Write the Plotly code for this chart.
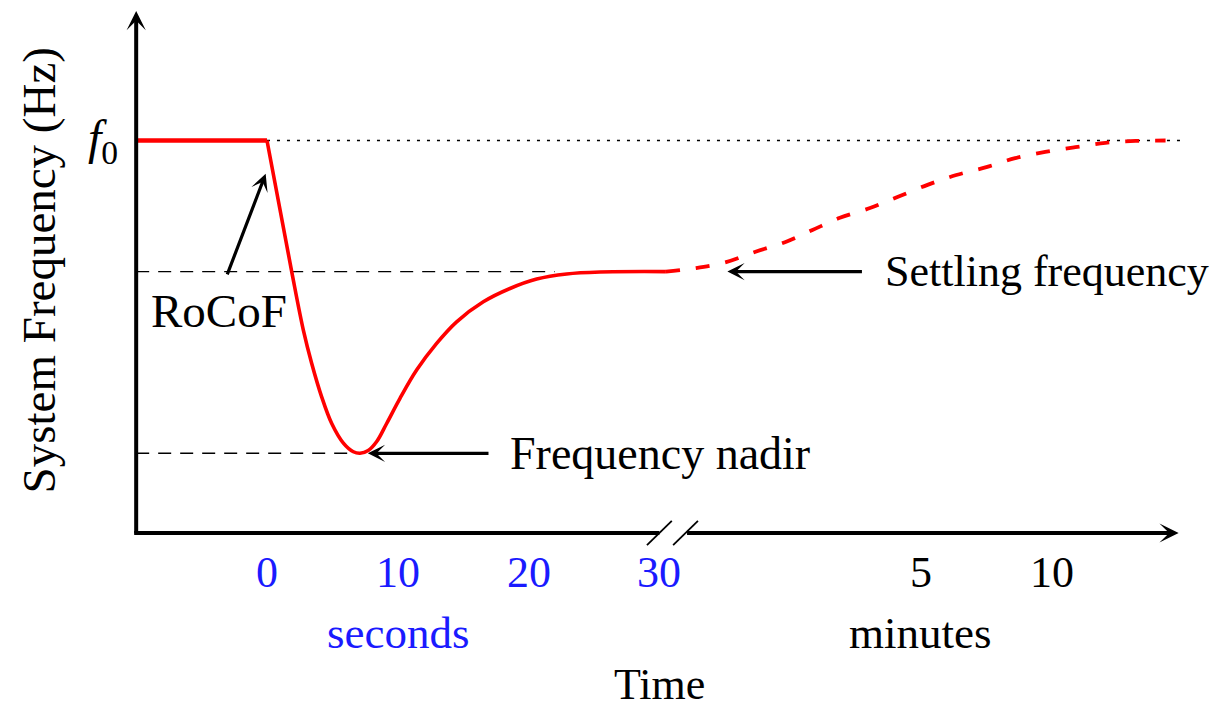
import plotly.graph_objects as go

# ---------------- data (schematic units: x = time axis units, y = f / f0 scale) -------------
# pre-disturbance (seconds)
t_pre = [-10, 0]
f_pre = [1.0, 1.0]
# first 30 seconds
t_sec = [0, 1.89, 2.78, 3.42, 4.18, 4.95, 5.84, 6.60, 7.11, 7.74, 8.39, 9.15, 10.17,
         11.44, 12.97, 14.50, 16.54, 18.58, 20.62, 22.91, 25.46, 30.5]
f_sec = [1.0, 0.666, 0.517, 0.432, 0.347, 0.279, 0.229, 0.207, 0.203, 0.210, 0.233,
         0.279, 0.343, 0.415, 0.483, 0.538, 0.589, 0.623, 0.647, 0.660, 0.665, 0.666]
# minutes part (after the axis break)
t_min = [30.5, 32.8, 35.1, 37.3, 39.6, 41.7, 43.8, 46.1, 48.2, 50.5, 52.7, 55.0,
         57.2, 59.5, 61.8, 64.1, 66.4, 68.7]
f_min = [0.666, 0.675, 0.690, 0.716, 0.741, 0.772, 0.803, 0.828, 0.856, 0.887, 0.912,
         0.932, 0.955, 0.971, 0.983, 0.994, 0.999, 1.0]

f0_level = 1.0
settle_level = 0.666
nadir_level = 0.203
nadir_time = 7.11

sec_tick_pos = [0, 10, 20, 30]
sec_tick_text = ["0", "10", "20", "30"]
min_tick_pos = [50, 60]
min_tick_text = ["5", "10"]

axis_x0, axis_x1 = -10, 69.7
axis_ytop = 1.33
break_x = [30.0, 32.0]

FONT = "Liberation Serif"
FS = 44
BLUE = "#1a1aff"
RED = "#ff0000"

fig = go.Figure()

# reference lines
fig.add_trace(go.Scatter(x=[0, axis_x1 + 0.2], y=[f0_level, f0_level], mode="lines",
                         line=dict(color="black", width=1.6, dash="3px,7px"), hoverinfo="skip"))
fig.add_trace(go.Scatter(x=[axis_x0, 22], y=[settle_level, settle_level], mode="lines",
                         line=dict(color="black", width=1.4, dash="13px,9px"), hoverinfo="skip"))
fig.add_trace(go.Scatter(x=[axis_x0, nadir_time], y=[nadir_level, nadir_level], mode="lines",
                         line=dict(color="black", width=1.4, dash="13px,9px"), hoverinfo="skip"))

# frequency curve
fig.add_trace(go.Scatter(x=t_pre, y=f_pre, mode="lines",
                         line=dict(color=RED, width=4.5), hoverinfo="skip"))
fig.add_trace(go.Scatter(x=t_sec, y=f_sec, mode="lines", line_shape="spline",
                         line=dict(color=RED, width=3.6), hoverinfo="skip"))
fig.add_trace(go.Scatter(x=t_min, y=f_min, mode="lines", line_shape="spline",
                         line=dict(color=RED, width=3.8, dash="14px,16px"), hoverinfo="skip"))

# axes
xpx = 13.08   # px per x unit
ypx = 392.5   # px per y unit
fig.add_annotation(x=axis_x0, y=axis_ytop, ax=axis_x0, ay=-2 / ypx, xref="x", yref="y",
                   axref="x", ayref="y", showarrow=True, arrowhead=3, arrowwidth=4,
                   arrowsize=0.8, arrowcolor="black", standoff=0, text="")
fig.add_shape(type="line", x0=axis_x0 - 2 / xpx, x1=break_x[0], y0=0, y1=0,
              line=dict(color="black", width=4))
fig.add_annotation(x=axis_x1, y=0, ax=break_x[1], ay=0, xref="x", yref="y",
                   axref="x", ayref="y", showarrow=True, arrowhead=3, arrowwidth=4,
                   arrowsize=0.8, arrowcolor="black", standoff=0, text="")
for bx in break_x:
    fig.add_shape(type="line", x0=bx - 0.95, x1=bx + 0.95, y0=-0.031, y1=0.031,
                  line=dict(color="black", width=1.8))

# tick labels
for p, t in zip(sec_tick_pos, sec_tick_text):
    fig.add_annotation(x=p, y=0, yshift=-40, text=t, showarrow=False,
                       font=dict(family=FONT, size=FS, color=BLUE))
for p, t in zip(min_tick_pos, min_tick_text):
    fig.add_annotation(x=p, y=0, yshift=-40, text=t, showarrow=False,
                       font=dict(family=FONT, size=FS, color="black"))
fig.add_annotation(x=sec_tick_pos[1], y=0, yshift=-100, text="seconds", showarrow=False,
                   font=dict(family=FONT, size=FS + 1, color=BLUE))
fig.add_annotation(x=min_tick_pos[0], y=0, yshift=-100, text="minutes", showarrow=False,
                   font=dict(family=FONT, size=FS + 1, color="black"))
fig.add_annotation(x=sec_tick_pos[3], y=0, yshift=-152, text="Time", showarrow=False,
                   font=dict(family=FONT, size=FS, color="black"))

# y title and f0 label
fig.add_annotation(x=-17.4, y=0.670, text="System Frequency (Hz)", textangle=-90,
                   showarrow=False, font=dict(family=FONT, size=47, color="black"))
fig.add_annotation(x=-11.2, y=f0_level, xanchor="right", text="<i>f</i><sub>0</sub>",
                   showarrow=False, font=dict(family=FONT, size=48, color="black"))

# callouts
fig.add_annotation(x=-0.10, y=0.915, ax=-3.08, ay=0.655, xref="x", yref="y",
                   axref="x", ayref="y", showarrow=True, arrowhead=3, arrowwidth=3.2,
                   arrowsize=0.9, arrowcolor="black", standoff=0, text="")
fig.add_annotation(x=-9.0, y=0.565, xanchor="left", text="RoCoF", showarrow=False,
                   font=dict(family=FONT, size=47, color="black"))

fig.add_annotation(x=nadir_time + 0.6, y=nadir_level, ax=17.05, ay=nadir_level, xref="x",
                   yref="y", axref="x", ayref="y", showarrow=True, arrowhead=3, arrowwidth=3.2,
                   arrowsize=0.9, arrowcolor="black", standoff=0, text="")
fig.add_annotation(x=18.4, y=nadir_level, xanchor="left", text="Frequency nadir",
                   showarrow=False, font=dict(family=FONT, size=46, color="black"))

fig.add_annotation(x=35.2, y=settle_level, ax=45.6, ay=settle_level, xref="x",
                   yref="y", axref="x", ayref="y", showarrow=True, arrowhead=3, arrowwidth=3.2,
                   arrowsize=0.9, arrowcolor="black", standoff=0, text="")
fig.add_annotation(x=47.1, y=settle_level, xanchor="left", text="Settling frequency",
                   showarrow=False, font=dict(family=FONT, size=FS, color="black"))

# the page body has an 8px margin: the figure spans page pixels 8..1226 x 8..710
fig.update_layout(
    width=1218, height=702, autosize=False,
    margin=dict(l=0, r=0, t=0, b=0),
    paper_bgcolor="white", plot_bgcolor="white",
    showlegend=False,
    xaxis=dict(visible=False, range=[-19.80, 73.32], fixedrange=True),
    yaxis=dict(visible=False, range=[-0.451, 1.3376], fixedrange=True),
)

fig.write_html("out.html")
